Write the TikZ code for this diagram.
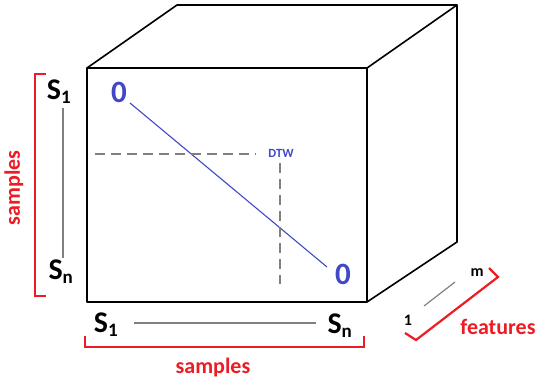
\documentclass[tikz,border=0pt]{standalone}
\usepackage{fontspec}
\setmainfont{Carlito}
\definecolor{zblue}{RGB}{64,72,200}
\definecolor{zred}{RGB}{235,28,36}
\definecolor{zgray}{RGB}{128,128,128}
\begin{document}
\begin{tikzpicture}[x=1pt,y=-1pt,
  edge/.style={line width=1.6pt,black,line join=round},
  zero/.style={text=zblue,font=\fontsize{31}{31}\selectfont\bfseries,inner sep=0pt},
  slab/.style={font=\fontsize{30}{30}\selectfont\bfseries,inner sep=0pt},
  sub/.style={},
  redtxt/.style={text=zred,font=\fontsize{22}{22}\selectfont\bfseries,inner sep=0pt},
  grayline/.style={zgray,line width=1.2pt},
  brack/.style={zred,line width=2.2pt,line join=miter}]
\useasboundingbox (0,0) rectangle (540,385);
% cube
\coordinate (fa) at (87,68);
\coordinate (fb) at (367,68);
\coordinate (fc) at (367,302);
\coordinate (fd) at (87,302);
\coordinate (ba) at (177,5);
\coordinate (bb) at (457,5);
\coordinate (bc) at (457,242);
\draw[edge] (fa) rectangle (fc);
\draw[edge] (fa) -- (ba) -- (bb) -- (fb);
\draw[edge] (bb) -- (bc) -- (fc);
% DTW path
\node[zero] (z1) at (119,92) {0};
\node[zero] (z2) at (343,274) {0};
\coordinate (p1) at (130,103);
\coordinate (p2) at (327,267);
\draw[zblue,line width=1.1pt] (p1) -- (p2);
\coordinate (h1) at (95,154);
\coordinate (h2) at (256,154);
\coordinate (v1) at (280,163);
\coordinate (v2) at (280,284);
\draw[zgray,line width=1.3pt,dash pattern=on 10pt off 6pt] (h1) -- (h2);
\draw[zgray,line width=1.3pt,dash pattern=on 10pt off 6pt] (v1) -- (v2);
\node[text=zblue,font=\fontsize{12.5}{12.5}\selectfont\bfseries,inner sep=0pt] (dtw) at (281,153) {DTW};
% left axis
\node[slab] (ls1) at (59,92) {S\textsubscript{\fontsize{19}{19}\selectfont 1}};
\node[slab] (lsn) at (61,272) {S\textsubscript{\fontsize{19}{19}\selectfont n}};
\coordinate (l1) at (63,108);
\coordinate (l2) at (63,258);
\draw[grayline] (l1) -- (l2);
\coordinate (lb1) at (46,74);
\coordinate (lb2) at (35,74);
\coordinate (lb3) at (35,296);
\coordinate (lb4) at (46,296);
\draw[brack] (lb1) -- (lb2) -- (lb3) -- (lb4);
\node[redtxt,rotate=90] (lsam) at (14,188) {samples};
% bottom axis
\node[slab] (bs1) at (106,325) {S\textsubscript{\fontsize{19}{19}\selectfont 1}};
\node[slab] (bsn) at (340,326) {S\textsubscript{\fontsize{19}{19}\selectfont n}};
\coordinate (b1) at (134,323);
\coordinate (b2) at (316,323);
\draw[grayline] (b1) -- (b2);
\coordinate (bb1) at (85,336);
\coordinate (bb2) at (85,347);
\coordinate (bb3) at (364,347);
\coordinate (bb4) at (364,336);
\draw[brack] (bb1) -- (bb2) -- (bb3) -- (bb4);
\node[redtxt] (bsam) at (213,368) {samples};
% features axis
\coordinate (f1) at (424,306);
\coordinate (f2) at (455,282);
\draw[grayline] (f1) -- (f2);
\node[font=\fontsize{16}{16}\selectfont\bfseries,inner sep=0pt] (fm) at (477,273) {m};
\node[font=\fontsize{16}{16}\selectfont\bfseries,inner sep=0pt] (f1l) at (408,320) {1};
\coordinate (fb1) at (405,333);
\coordinate (fb2) at (416,340);
\coordinate (fb3) at (498,277);
\coordinate (fb4) at (489,268);
\draw[brack] (fb1) -- (fb2) -- (fb3) -- (fb4);
\node[redtxt] (feat) at (498,327) {features};
\end{tikzpicture}
\end{document}
